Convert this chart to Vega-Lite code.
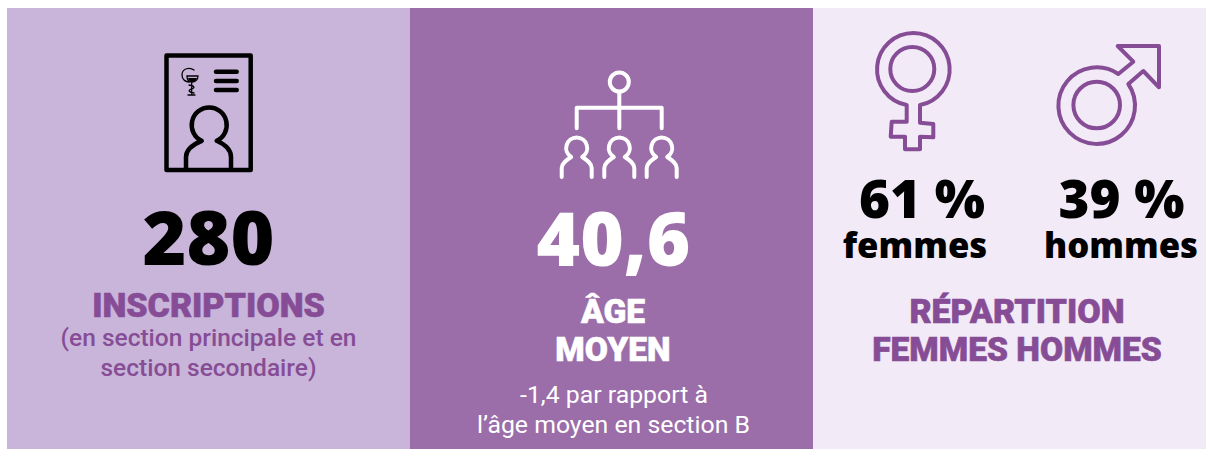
{"$schema":"https://vega.github.io/schema/vega-lite/v6.json","width":1206,"height":449,"padding":0,"autosize":{"type":"fit","contains":"padding"},"background":"#ffffff","config":{"view":{"stroke":null}},
"resolve":{"scale":{"shape":"independent"}},
"encoding":{"x":{"field":"x","type":"quantitative","scale":{"domain":[0,1206]},"axis":null},"y":{"field":"y","type":"quantitative","scale":{"domain":[449,0]},"axis":null},"text":{"field":"t","type":"nominal"}},
"layer":[
{"data":{"values":[{"panel":"inscriptions","x0":7,"x1":410,"y0":8,"y1":449},{"panel":"age","x0":410,"x1":813,"y0":8,"y1":449},{"panel":"repartition","x0":813,"x1":1206,"y0":8,"y1":449}]},"mark":{"type":"rect"},"encoding":{"x":{"field":"x0","type":"quantitative","scale":{"domain":[0,1206]},"axis":null},"x2":{"field":"x1"},"y":{"field":"y0","type":"quantitative","scale":{"domain":[449,0]},"axis":null},"y2":{"field":"y1"},"text":{"value":""},"color":{"field":"panel","type":"nominal","legend":null,"scale":{"domain":["inscriptions","age","repartition"],"range":["#c9b5d9","#9b6da9","#f2ebf7"]}}}},
{"data":{"values":[{"icon":"dossier","x":208,"y":112}]},"mark":{"type":"point","filled":false,"opacity":1,"size":4,"stroke":"#000000","strokeWidth":4.5,"strokeJoin":"round","strokeCap":"round"},"encoding":{"text":{"value":""},"shape":{"field":"icon","type":"nominal","legend":null,"scale":{"domain":["dossier"],"range":["M-41.5 -56.5 L42.7 -56.5 L42.7 58 L-41.5 58 Z M8 -40.3 L28.7 -40.3 M8 -31 L28.7 -31 M8 -22 L28.7 -22 M-22 58 L-22 45 C-22 37 -14 32 -6.3 28.8 A17.5 17.5 0 1 1 8.7 28.8 C16 32 23 37 23 45 L23 58"]}}}},
{"data":{"values":[{"icon":"caducee","x":208,"y":112}]},"mark":{"type":"point","filled":false,"opacity":1,"size":4,"stroke":"#000000","strokeWidth":1.3,"strokeCap":"round"},"encoding":{"text":{"value":""},"shape":{"field":"icon","type":"nominal","legend":null,"scale":{"domain":["caducee"],"range":["M-14 -42 C-18 -45 -26 -44 -26 -37 C-26 -32 -22 -30 -19 -30 M-21 -36 L-10 -36 C-10 -32 -13 -30 -16 -30 C-19 -30 -21 -32 -21 -36 Z M-16.3 -30 L-16.3 -17 M-20 -17 L-13 -17 M-19 -27 C-13 -26 -13 -24 -16.3 -23 C-20 -22 -20 -20 -14 -19"]}}}},
{"data":{"values":[{"icon":"coupe","x":208,"y":112}]},"mark":{"type":"point","filled":true,"opacity":1,"size":4,"color":"#000000"},"encoding":{"text":{"value":""},"shape":{"field":"icon","type":"nominal","legend":null,"scale":{"domain":["coupe"],"range":["M-20 -34 L-11 -34 C-11.5 -32 -13 -30 -15.5 -30 C-18 -30 -19.5 -32 -20 -34 Z"]}}}},
{"data":{"values":[{"icon":"hierarchie","x":619,"y":120}]},"mark":{"type":"point","filled":false,"opacity":1,"size":4,"stroke":"#ffffff","strokeWidth":4,"strokeJoin":"round","strokeCap":"round"},"encoding":{"text":{"value":""},"shape":{"field":"icon","type":"nominal","legend":null,"scale":{"domain":["hierarchie"],"range":["M-9.2 -38 A9.5 9.5 0 1 1 9.8 -38 A9.5 9.5 0 1 1 -9.2 -38 Z M0.3 -28.3 L0.3 8.3 M-42.3 8.3 L-42.3 -12.3 L42.7 -12.3 L42.7 8.3 M-57.3 57 L-57.3 48 C-57.3 43 -52.3 40 -47.8 37 A10.5 10.5 0 1 1 -36.8 37 C-32.3 40 -27.3 43 -27.3 48 L-27.3 57 M-14.7 57 L-14.7 48 C-14.7 43 -9.7 40 -5.2 37 A10.5 10.5 0 1 1 5.8 37 C10.3 40 15.3 43 15.3 48 L15.3 57 M27.7 57 L27.7 48 C27.7 43 32.7 40 37.2 37 A10.5 10.5 0 1 1 48.2 37 C52.7 40 57.7 43 57.7 48 L57.7 57"]}}}},
{"data":{"values":[{"icon":"femme","x":912,"y":98},{"icon":"homme","x":1108,"y":95}]},"mark":{"type":"point","filled":false,"opacity":1,"size":4,"stroke":"#864d96","strokeWidth":4,"strokeJoin":"round","strokeCap":"round"},"encoding":{"text":{"value":""},"shape":{"field":"icon","type":"nominal","legend":null,"scale":{"domain":["femme","homme"],"range":["M-5.3 7 L-5.3 23.7 L-20.3 23.7 L-21.3 38.7 L-7 38.7 L-7 51.3 L8 51.3 L8 38.7 L21.3 39.3 L21.3 26 L8 24.7 L8 7 A36.3 36.3 0 1 0 -5.3 7 Z M-21.7 -29 A22 22 0 1 1 22.3 -29 A22 22 0 1 1 -21.7 -29 Z","M10.3 -21 L25.3 -33.3 L9.7 -49 L51 -49 L51 -7.7 L35.3 -24 L20.3 -11 A38.3 38.3 0 1 1 10.3 -21 Z M-34.6 10 A23.3 23.3 0 1 1 12 10 A23.3 23.3 0 1 1 -34.6 10 Z"]}}}},
{"data":{"values":[{"t":"280","x":208.5,"y":265}]},"mark":{"type":"text","font":"Open Sans","fontWeight":800,"fontSize":75,"align":"center","baseline":"alphabetic","color":"#000000"}},
{"data":{"values":[{"t":"40,6","x":613.5,"y":266}]},"mark":{"type":"text","font":"Open Sans","fontWeight":800,"fontSize":74.5,"align":"center","baseline":"alphabetic","color":"#ffffff"}},
{"data":{"values":[{"t":"61 %","x":922,"y":218},{"t":"39 %","x":1121.5,"y":218}]},"mark":{"type":"text","font":"Open Sans","fontWeight":800,"fontSize":53,"align":"center","baseline":"alphabetic","color":"#000000"}},
{"data":{"values":[{"t":"femmes","x":915,"y":258},{"t":"hommes","x":1121,"y":258}]},"mark":{"type":"text","font":"Open Sans","fontWeight":800,"fontSize":34.7,"align":"center","baseline":"alphabetic","color":"#000000"}},
{"data":{"values":[{"t":"INSCRIPTIONS","x":208.5,"y":317},{"t":"RÉPARTITION","x":1017,"y":323}]},"mark":{"type":"text","font":"Roboto","fontWeight":900,"fontSize":34,"align":"center","baseline":"alphabetic","color":"#864d96","stroke":"#864d96","strokeWidth":0.6}},
{"data":{"values":[{"t":"FEMMES HOMMES","x":1017,"y":361}]},"mark":{"type":"text","font":"Roboto","fontWeight":900,"fontSize":33.6,"align":"center","baseline":"alphabetic","color":"#864d96","stroke":"#864d96","strokeWidth":0.6}},
{"data":{"values":[{"t":"ÂGE","x":613,"y":323},{"t":"MOYEN","x":613,"y":361}]},"mark":{"type":"text","font":"Roboto","fontWeight":900,"fontSize":33.6,"align":"center","baseline":"alphabetic","color":"#ffffff","stroke":"#ffffff","strokeWidth":0.6}},
{"data":{"values":[{"t":"(en section principale et en","x":208.5,"y":346},{"t":"section secondaire)","x":208.5,"y":376}]},"mark":{"type":"text","font":"Roboto","fontWeight":500,"fontSize":24.5,"align":"center","baseline":"alphabetic","color":"#864d96"}},
{"data":{"values":[{"t":"-1,4 par rapport à","x":614,"y":403},{"t":"l’âge moyen en section B","x":613.5,"y":433}]},"mark":{"type":"text","font":"Roboto","fontWeight":400,"fontSize":24.8,"align":"center","baseline":"alphabetic","color":"#ffffff"}}
]}
